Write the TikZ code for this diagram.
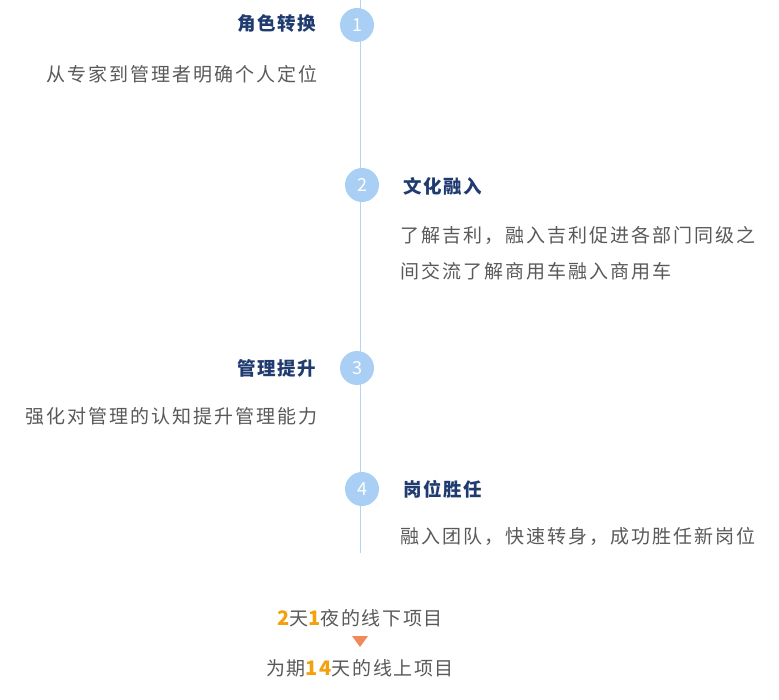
\documentclass[tikz,border=0pt]{standalone}
\usepackage{xcolor}
\usepackage{fontspec}
\setmainfont{Noto Sans CJK SC}
\newfontfamily\ttlfont[LetterSpace=8]{Noto Sans CJK SC}
\newfontfamily\bodyfont[LetterSpace=10.5]{Noto Sans CJK SC}
\newfontfamily\notefont[LetterSpace=8.5]{Noto Sans CJK SC}
\usetikzlibrary{positioning}
\definecolor{navy}{HTML}{1F3B70}
\definecolor{slate}{HTML}{595959}
\definecolor{dot}{HTML}{A9CFF5}
\definecolor{spineblue}{HTML}{B3D4F7}
\definecolor{amber}{HTML}{F5A00F}
\definecolor{coral}{HTML}{F2895A}
\newcommand{\hl}[1]{\textcolor{amber}{\bfseries\fontsize{20}{20}\selectfont #1}}

\begin{document}
\begin{tikzpicture}[x=1pt,y=-1pt,
    stepdot/.style={circle, fill=dot, minimum size=34pt, inner sep=0pt,
                    text=white, font=\fontsize{18}{18}\selectfont},
    ttl/.style={inner sep=0pt, text=navy, text height=16.3pt, text depth=2.2pt,
                font=\ttlfont\bfseries\fontsize{18.5}{18.5}\selectfont},
    body/.style={inner sep=0pt, text=slate, text height=16.7pt, text depth=2.3pt,
                 font=\bodyfont\fontsize{19}{19}\selectfont},
    note/.style={inner sep=0pt, text=slate, text height=16.7pt, text depth=2.3pt,
                 font=\notefont\fontsize{19}{19}\selectfont}]
  \useasboundingbox (0,0) rectangle (779,700);

  % timeline
  \coordinate (top) at (360,0);
  \coordinate (bot) at (360,553);
  \draw[spineblue, line width=1pt] (top) -- (bot);

  % step 1
  \node[stepdot] (s1) at (357,25) {1};
  \node[ttl, anchor=east] (t1) at (316,23) {角色转换};
  \node[body, anchor=east] (b1) at (318,74) {从专家到管理者明确个人定位};

  % step 2
  \node[stepdot] (s2) at (362,185) {2};
  \node[ttl, anchor=west] (t2) at (403,186) {文化融入};
  \node[body, anchor=west] (b2a) at (400,235) {了解吉利，融入吉利促进各部门同级之};
  \node[body, anchor=west] (b2b) at (400,271) {间交流了解商用车融入商用车};

  % step 3
  \node[stepdot] (s3) at (357,368) {3};
  \node[ttl, anchor=east] (t3) at (316,368) {管理提升};
  \node[body, anchor=east] (b3) at (318,416) {强化对管理的认知提升管理能力};

  % step 4
  \node[stepdot] (s4) at (362,489) {4};
  \node[ttl, anchor=west] (t4) at (403,489) {岗位胜任};
  \node[body, anchor=west] (b4) at (400,536) {融入团队，快速转身，成功胜任新岗位};

  % programme
  \node[note] (offline) at (360,618) {\hl{2}天\hl{1}夜的线下项目};
  \fill[coral] (352,636) -- (368,636) -- (360,647) -- cycle;
  \node[note] (online) at (360,668) {为期\hl{14}天的线上项目};
\end{tikzpicture}
\end{document}
